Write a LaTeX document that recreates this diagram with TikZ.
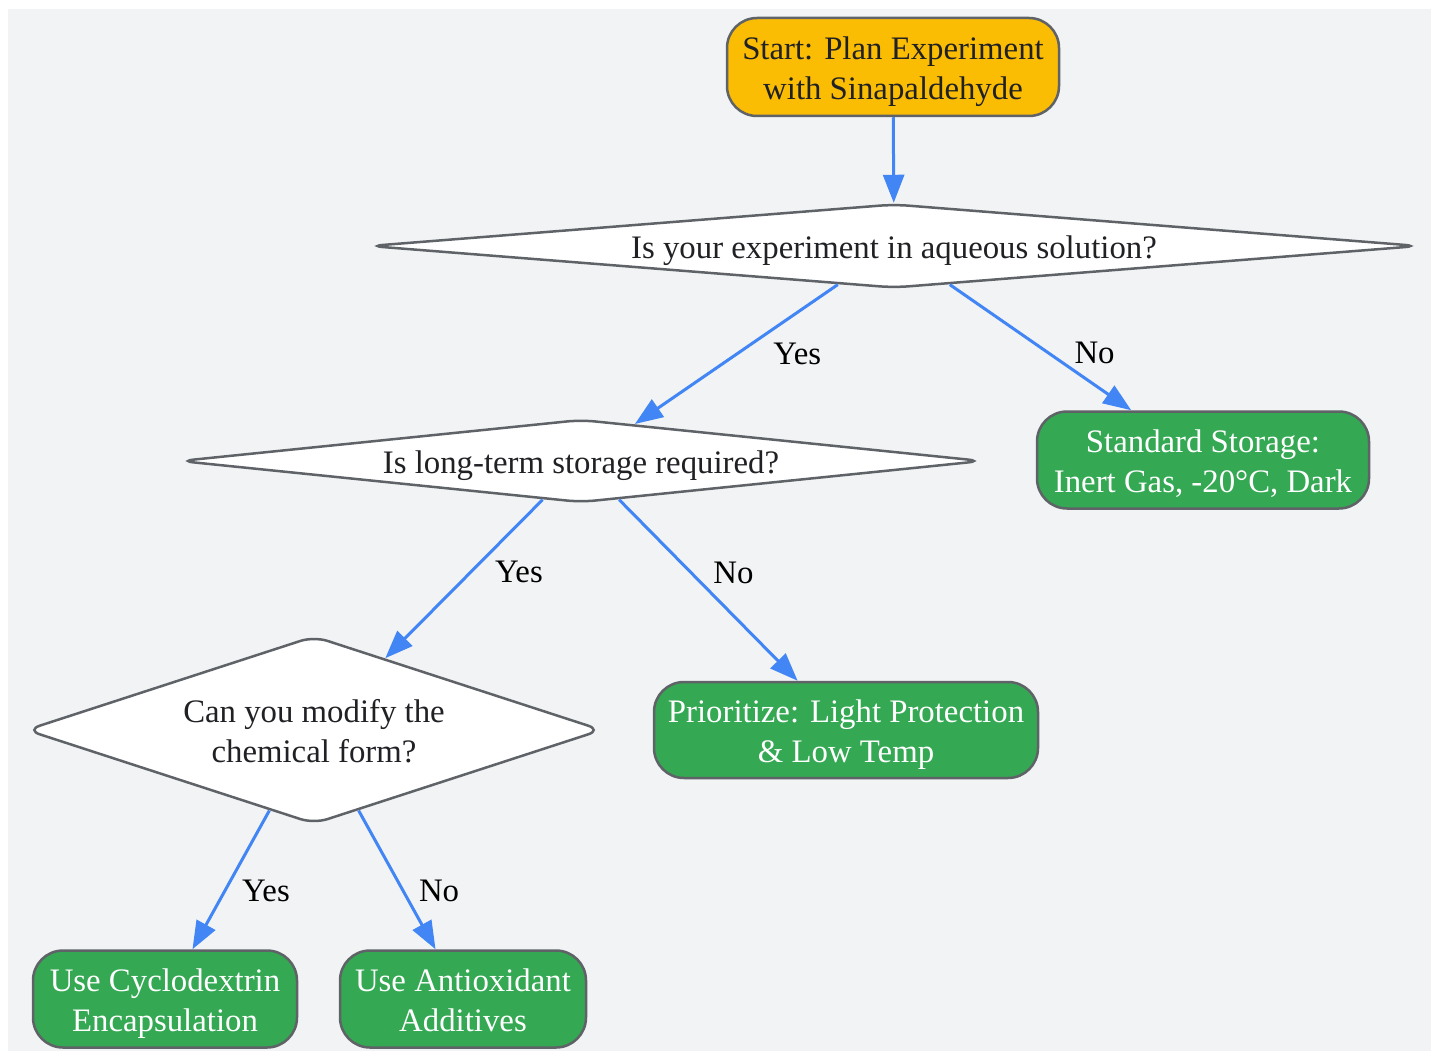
\documentclass[tikz,border=0pt]{standalone}
\usepackage{fontspec}
\setmainfont{Liberation Serif}
\usetikzlibrary{positioning}
\usetikzlibrary{shapes.geometric}
\usetikzlibrary{arrows.meta}
\definecolor{bgcol}{HTML}{F1F3F4}
\definecolor{edgecol}{HTML}{5F6368}
\definecolor{startcol}{HTML}{FBBC04}
\definecolor{okcol}{HTML}{34A853}
\definecolor{arrcol}{HTML}{4285F4}
\definecolor{txtcol}{HTML}{202124}
% taller first line, to set the text a bit lower in its shape
\newcommand{\tstrut}{\rule{0pt}{32pt}}

\begin{document}
\begin{tikzpicture}[x=1pt, y=-1pt,
        every node/.style={font=\fontsize{32.8}{39.4}\selectfont, text=txtcol, align=center},
        box/.style={rectangle, rounded corners=30pt, draw=edgecol, line width=2.5pt, inner sep=0pt,
            execute at end node={\rule[-7.2pt]{0pt}{7.2pt}}},
        startbox/.style={box, fill=startcol},
        endbox/.style={box, fill=okcol, text=white},
        q/.style={diamond, rounded corners=14pt, draw=edgecol, line width=2.5pt, fill=white, inner sep=0pt,
            execute at end node={\rule[-7.2pt]{0pt}{7.2pt}}},
        arr/.style={color=arrcol, line width=3pt, -{Triangle[length=28pt, width=21pt]}},
        lbl/.style={text=black}]
            \fill[bgcol] (8, 9) rectangle (1431, 1051);
            \useasboundingbox (0, 0) rectangle (1431, 1051);

            \node[startbox, minimum width=332pt, minimum height=98pt] (start) at (893, 67) {\tstrut Start: Plan Experiment\\with Sinapaldehyde};
            \node[q, aspect=12.5, minimum width=1050pt, minimum height=84pt] (aq) at (894, 246) {\tstrut Is your experiment in aqueous solution?};
            \node[q, aspect=9.6, minimum width=803pt, minimum height=83pt] (lts) at (581, 461) {\tstrut Is long-term storage required?};
            \node[q, aspect=3.05, minimum width=576pt, minimum height=188pt] (mod) at (314, 730) {\tstrut Can you modify the\\chemical form?};
            \node[endbox, minimum width=332pt, minimum height=97pt] (std) at (1203, 460) {\tstrut Standard Storage:\\Inert Gas, -20°C, Dark};
            \node[endbox, minimum width=384pt, minimum height=96pt] (light) at (846, 730) {\tstrut Prioritize: Light Protection\\\& Low Temp};
            \node[endbox, minimum width=264pt, minimum height=97pt] (cyclo) at (165, 999) {\tstrut Use Cyclodextrin\\Encapsulation};
            \node[endbox, minimum width=246pt, minimum height=97pt] (antiox) at (463, 999) {\tstrut Use Antioxidant\\Additives};

            \draw[arr] (start) edge (aq);
            \draw[arr] (aq) edge node[lbl, midway, xshift=61pt] {Yes} (lts);
            \draw[arr] (aq) edge node[lbl, midway, xshift=54pt, yshift=-5pt] {No} (std);
            \draw[arr] (lts) edge node[lbl, midway, xshift=55pt, yshift=7pt] {Yes} (mod);
            \draw[arr] (lts) edge node[lbl, midway, xshift=25pt, yshift=17pt] {No} (light);
            \draw[arr] (mod) edge node[lbl, midway, xshift=35pt, yshift=-11pt] {Yes} (cyclo);
            \draw[arr] (mod) edge node[lbl, midway, xshift=42pt, yshift=-11pt] {No} (antiox);
        \end{tikzpicture}
\end{document}
